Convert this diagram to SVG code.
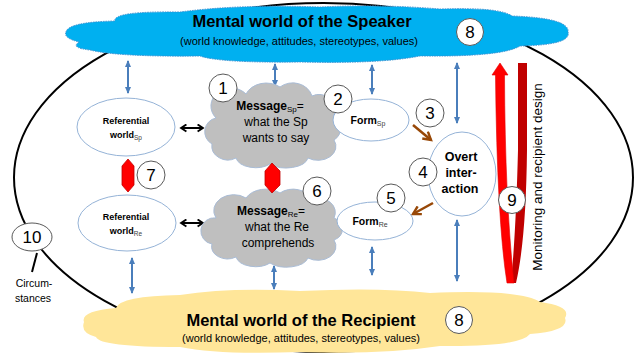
<svg xmlns="http://www.w3.org/2000/svg" width="640" height="360" viewBox="0 0 640 360">
<defs>
<style>
text{font-family:"Liberation Sans",Arial,sans-serif;fill:#000}
.b{font-weight:bold}
.num{font-size:17px;text-anchor:middle}
.circ{fill:#fff;stroke:#595959;stroke-width:1}
.ell{fill:#fff;stroke:#95B3D7;stroke-width:1}
.blue{stroke:#4A7EBB;stroke-width:2;fill:none;marker-start:url(#bh);marker-end:url(#bh)}
.blk{stroke:#000;stroke-width:2;fill:none;marker-start:url(#kh);marker-end:url(#kh)}
.brown{stroke:#984807;stroke-width:2.5;fill:none;marker-end:url(#rh)}
.cloud{fill:#BFBFBF;stroke:#A9BCD6;stroke-width:1}
.redx{fill:#FF0000;stroke:#C00000;stroke-width:0.8}
.mid{text-anchor:middle}
</style>
<marker id="bh" viewBox="0 0 8 8" refX="6" refY="4" markerWidth="8" markerHeight="8" markerUnits="userSpaceOnUse" orient="auto-start-reverse">
<path d="M0,1 L7,4 L0,7 Z" fill="#4A7EBB"/>
</marker>
<marker id="kh" viewBox="0 0 10 10" refX="8" refY="5" markerWidth="9" markerHeight="9" markerUnits="userSpaceOnUse" orient="auto-start-reverse">
<path d="M2,1 L8,5 L2,9" fill="none" stroke="#000" stroke-width="2"/>
</marker>
<marker id="rh" viewBox="0 0 10 10" refX="8" refY="5" markerWidth="11" markerHeight="11" markerUnits="userSpaceOnUse" orient="auto">
<path d="M1,1 L8,5 L1,9" fill="none" stroke="#984807" stroke-width="2.2"/>
</marker>
</defs>
<rect width="640" height="360" fill="#fff"/>

<g id="frame">
<ellipse cx="323.5" cy="177.5" rx="309.5" ry="174.5" fill="none" stroke="#000" stroke-width="2"/>
</g>

<g id="speaker-world">
<path d="M66,32 Q68,22 115,21 Q112,11 180,12 Q240,4 320,7 Q380,4 440,9 Q500,7 512,16 Q570,18 568,32 Q572,45 520,46 Q502,57 420,56 Q380,64 300,62 Q220,63 200,56 Q118,57 90,50 Q70,48 79,42 Q63,38 66,32 Z" fill="#00B0F0" stroke="#3D8FD0" stroke-width="1" stroke-dasharray="1.5 1"/>
<text x="302" y="27" class="b mid" font-size="16.5">Mental world of the Speaker</text>
<text x="299" y="45" class="mid" font-size="11">(world knowledge, attitudes, stereotypes, values)</text>
<circle cx="470" cy="32" r="13.5" class="circ"/>
<text x="470" y="38" class="num">8</text>
</g>

<g id="recipient-world">
<path d="M84,322 Q80,311 116,308 Q120,296 180,295 Q230,287 300,291 Q380,287 430,293 Q520,289 540,302 Q572,306 565,318 Q570,331 530,334 Q520,347 440,346 Q380,355 300,352 Q220,355 180,347 Q100,347 96,337 Q80,333 84,322 Z" fill="#FFE699"/>
<text x="301" y="326" class="b mid" font-size="16.5">Mental world of the Recipient</text>
<text x="301" y="342" class="mid" font-size="11">(world knowledge, attitudes, stereotypes, values)</text>
<circle cx="459" cy="320" r="13.5" class="circ"/>
<text x="459" y="326" class="num">8</text>
</g>

<g id="connectors">
<line x1="128" y1="61" x2="128" y2="93" class="blue"/>
<line x1="275" y1="64" x2="275" y2="86" class="blue"/>
<line x1="372" y1="65" x2="372" y2="94" class="blue"/>
<line x1="457" y1="63" x2="457" y2="123" class="blue"/>
<line x1="132" y1="258" x2="132" y2="293" class="blue"/>
<line x1="274" y1="266" x2="274" y2="289" class="blue"/>
<line x1="372" y1="247" x2="372" y2="275" class="blue"/>
<line x1="457" y1="220" x2="457" y2="281" class="blue"/>
<line x1="181" y1="128" x2="203" y2="128" class="blk"/>
<line x1="181" y1="223" x2="203" y2="223" class="blk"/>
<line x1="413" y1="125" x2="431" y2="140" class="brown"/>
<line x1="433" y1="203" x2="413" y2="214" class="brown"/>
<line x1="37" y1="253" x2="32" y2="272" stroke="#000" stroke-width="2"/>
</g>

<g id="monitoring">
<path d="M518,63 L527,63 L527,150 Q526,240 516,283 L511,283 Q516,230 518,150 Z" fill="#C00000"/>
<path d="M500,63 L508,75 L504.5,75 Q505,200 514,283 L507,283 Q497,220 495.5,75 L492,75 Z" fill="#FF0000" stroke="#E00000" stroke-width="0.6"/>
<text transform="translate(542,177) rotate(-90)" class="mid" font-size="13.5">Monitoring and recipient design</text>
<circle cx="512" cy="200" r="13.5" class="circ"/>
<text x="512" y="206" class="num">9</text>
</g>

<g id="ref-world-sp">
<ellipse cx="126" cy="127" rx="49" ry="29" class="ell"/>
<text x="126" y="124" class="b mid" font-size="9">Referential</text>
<text x="126" y="138" class="mid" font-size="9"><tspan class="b">world</tspan><tspan font-size="6.5" dy="2" fill="#404040">Sp</tspan></text>
</g>

<g id="ref-world-re">
<ellipse cx="127" cy="223" rx="49" ry="28" class="ell"/>
<text x="126" y="220" class="b mid" font-size="9">Referential</text>
<text x="126" y="234" class="mid" font-size="9"><tspan class="b">world</tspan><tspan font-size="6.5" dy="2" fill="#404040">Re</tspan></text>
</g>

<g id="message-sp">
<path d="M216,118 A20,18 0 0 1 246,94 A22,18 0 0 1 280,87 A20,18 0 0 1 312,96 A16,16 0 0 1 334,116 A14,14 0 0 1 334,140 A18,14 0 0 1 308,158 A22,12 0 0 1 270,164 A20,12 0 0 1 236,158 A16,14 0 0 1 212,144 A14,14 0 0 1 216,118 Z" class="cloud"/>
<text x="270" y="110" class="mid" font-size="12"><tspan class="b">Message</tspan><tspan font-size="8" dy="2">Sp</tspan><tspan dy="-2">=</tspan></text>
<text x="276" y="126" class="mid" font-size="12">what the Sp</text>
<text x="276" y="142" class="mid" font-size="12">wants to say</text>
</g>

<g id="message-re">
<path d="M216,218 A20,16 0 0 1 246,198 A22,16 0 0 1 280,193 A20,16 0 0 1 312,200 A16,14 0 0 1 334,218 A14,12 0 0 1 334,240 A18,14 0 0 1 308,258 A22,12 0 0 1 270,263 A20,12 0 0 1 236,257 A16,12 0 0 1 212,244 A12,12 0 0 1 216,218 Z" class="cloud"/>
<text x="271" y="215" class="mid" font-size="12"><tspan class="b">Message</tspan><tspan font-size="8" dy="2">Re</tspan><tspan dy="-2">=</tspan></text>
<text x="277" y="231" class="mid" font-size="12">what the Re</text>
<text x="278" y="247" class="mid" font-size="12">comprehends</text>
</g>

<g id="red-links">
<polygon points="128,159 134,166 134,185 128,192 122,185 122,166" class="redx"/>
<polygon points="272,163 280,171 280,185 272,193 265,185 265,171" class="redx"/>
</g>

<g id="form-sp">
<ellipse cx="371" cy="120" rx="38" ry="21" class="ell"/>
<text x="368" y="124" class="mid" font-size="10.5"><tspan class="b">Form</tspan><tspan font-size="7" dy="2" fill="#404040">Sp</tspan></text>
</g>

<g id="form-re">
<ellipse cx="375" cy="221" rx="38" ry="19" class="ell"/>
<text x="370" y="225" class="mid" font-size="10.5"><tspan class="b">Form</tspan><tspan font-size="7" dy="2" fill="#404040">Re</tspan></text>
</g>

<g id="overt">
<ellipse cx="462" cy="174" rx="34" ry="42" class="ell"/>
<text x="461" y="161" class="b mid" font-size="12.5">Overt</text>
<text x="461" y="177" class="b mid" font-size="12.5">inter-</text>
<text x="460" y="193" class="b mid" font-size="12.5">action</text>
</g>

<g id="n1"><circle cx="223" cy="88" r="14" class="circ"/><text x="223" y="94" class="num">1</text></g>
<g id="n2"><circle cx="338" cy="99" r="14" class="circ"/><text x="338" y="105" class="num">2</text></g>
<g id="n3"><circle cx="430" cy="113" r="14" class="circ"/><text x="430" y="119" class="num">3</text></g>
<g id="n4"><circle cx="423" cy="172" r="14" class="circ"/><text x="423" y="178" class="num">4</text></g>
<g id="n5"><circle cx="391" cy="198" r="14" class="circ"/><text x="391" y="204" class="num">5</text></g>
<g id="n6"><circle cx="317" cy="191" r="14" class="circ"/><text x="317" y="197" class="num">6</text></g>
<g id="n7"><circle cx="151" cy="175" r="14" class="circ"/><text x="151" y="181" class="num">7</text></g>

<g id="circumstances">
<ellipse cx="32" cy="237" rx="20" ry="14" class="circ"/>
<text x="32" y="243" class="num">10</text>
<text x="34" y="287" class="mid" font-size="10.5">Circum-</text>
<text x="33" y="302" class="mid" font-size="10.5">stances</text>
</g>
</svg>
